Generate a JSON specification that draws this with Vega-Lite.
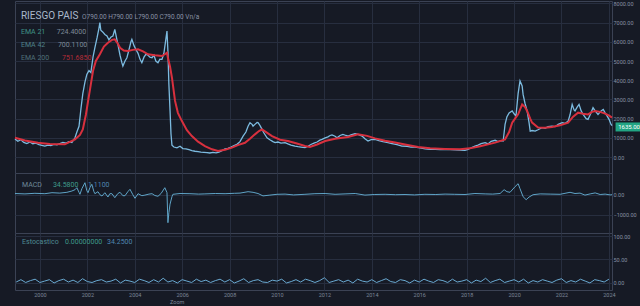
{
"$schema":"https://vega.github.io/schema/vega-lite/v6.json",
"background":"#161a25",
"padding":{"left":10,"top":0,"right":0,"bottom":0},
"spacing":0,
"bounds":"flush",
"config":{
 "view":{"stroke":"#3b4254","fill":"#161a25"},
 "axis":{"labelColor":"#8690a3","labelFontSize":5.5,"labelFont":"Roboto","gridColor":"#272e3f","gridWidth":1,"domain":false,"ticks":false,"tickSize":0,"title":null,"labelOverlap":false},
 "text":{"font":"Roboto"}
},
"datasets":{
 "price":[
{"t":1998.95,"v":940},{"t":1999.07,"v":820},{"t":1999.20,"v":900},{"t":1999.32,"v":760},{"t":1999.45,"v":700},{"t":1999.58,"v":780},{"t":1999.70,"v":690},{"t":1999.83,"v":720},{"t":1999.96,"v":650},{"t":2000.08,"v":610},{"t":2000.21,"v":570},{"t":2000.34,"v":620},{"t":2000.46,"v":590},{"t":2000.59,"v":660},{"t":2000.72,"v":640},{"t":2000.84,"v":700},{"t":2000.97,"v":760},{"t":2001.10,"v":720},{"t":2001.22,"v":800},{"t":2001.35,"v":760},{"t":2001.48,"v":1000},{"t":2001.56,"v":1300},{"t":2001.65,"v":1600},{"t":2001.73,"v":2500},{"t":2001.81,"v":3300},{"t":2001.90,"v":3900},{"t":2001.98,"v":4300},{"t":2002.07,"v":4500},{"t":2002.15,"v":4400},{"t":2002.24,"v":5200},{"t":2002.32,"v":5700},{"t":2002.41,"v":6200},{"t":2002.49,"v":6700},{"t":2002.53,"v":7000},{"t":2002.57,"v":6600},{"t":2002.66,"v":6500},{"t":2002.74,"v":6380},{"t":2002.83,"v":6300},{"t":2002.91,"v":6100},{"t":2003.00,"v":6250},{"t":2003.08,"v":6300},{"t":2003.16,"v":6650},{"t":2003.25,"v":6100},{"t":2003.29,"v":5870},{"t":2003.38,"v":5300},{"t":2003.46,"v":4900},{"t":2003.50,"v":4740},{"t":2003.59,"v":5000},{"t":2003.67,"v":5170},{"t":2003.76,"v":5600},{"t":2003.84,"v":6000},{"t":2003.88,"v":6130},{"t":2003.97,"v":5800},{"t":2004.05,"v":5600},{"t":2004.14,"v":5400},{"t":2004.22,"v":5100},{"t":2004.30,"v":4910},{"t":2004.39,"v":5200},{"t":2004.47,"v":5350},{"t":2004.56,"v":5300},{"t":2004.64,"v":5200},{"t":2004.73,"v":5170},{"t":2004.81,"v":5300},{"t":2004.89,"v":5000},{"t":2004.98,"v":4910},{"t":2005.06,"v":5100},{"t":2005.15,"v":5090},{"t":2005.23,"v":5400},{"t":2005.32,"v":6200},{"t":2005.36,"v":6560},{"t":2005.40,"v":5500},{"t":2005.44,"v":3800},{"t":2005.49,"v":2400},{"t":2005.53,"v":1200},{"t":2005.57,"v":620},{"t":2005.65,"v":520},{"t":2005.78,"v":480},{"t":2005.91,"v":560},{"t":2006.03,"v":440},{"t":2006.16,"v":420},{"t":2006.29,"v":380},{"t":2006.41,"v":330},{"t":2006.54,"v":300},{"t":2006.67,"v":280},{"t":2006.79,"v":250},{"t":2006.92,"v":240},{"t":2007.05,"v":230},{"t":2007.17,"v":210},{"t":2007.30,"v":240},{"t":2007.43,"v":220},{"t":2007.55,"v":260},{"t":2007.68,"v":330},{"t":2007.81,"v":420},{"t":2007.93,"v":450},{"t":2008.06,"v":520},{"t":2008.19,"v":600},{"t":2008.31,"v":660},{"t":2008.44,"v":800},{"t":2008.57,"v":1090},{"t":2008.69,"v":1300},{"t":2008.78,"v":1600},{"t":2008.86,"v":1790},{"t":2008.95,"v":1700},{"t":2008.99,"v":1610},{"t":2009.07,"v":1700},{"t":2009.16,"v":1800},{"t":2009.20,"v":1790},{"t":2009.28,"v":1650},{"t":2009.37,"v":1440},{"t":2009.45,"v":1250},{"t":2009.58,"v":1000},{"t":2009.70,"v":900},{"t":2009.83,"v":800},{"t":2009.92,"v":750},{"t":2010.04,"v":780},{"t":2010.17,"v":720},{"t":2010.34,"v":750},{"t":2010.46,"v":680},{"t":2010.59,"v":620},{"t":2010.76,"v":570},{"t":2010.89,"v":540},{"t":2011.01,"v":520},{"t":2011.18,"v":490},{"t":2011.31,"v":560},{"t":2011.43,"v":650},{"t":2011.56,"v":720},{"t":2011.69,"v":780},{"t":2011.81,"v":880},{"t":2011.90,"v":920},{"t":2012.03,"v":1000},{"t":2012.15,"v":1050},{"t":2012.24,"v":1120},{"t":2012.32,"v":1150},{"t":2012.45,"v":1080},{"t":2012.53,"v":1000},{"t":2012.66,"v":1120},{"t":2012.78,"v":1180},{"t":2012.91,"v":1120},{"t":2013.00,"v":1090},{"t":2013.12,"v":1150},{"t":2013.29,"v":1210},{"t":2013.42,"v":1180},{"t":2013.59,"v":1090},{"t":2013.71,"v":950},{"t":2013.84,"v":830},{"t":2013.97,"v":900},{"t":2014.14,"v":920},{"t":2014.30,"v":850},{"t":2014.47,"v":800},{"t":2014.68,"v":750},{"t":2014.85,"v":700},{"t":2015.06,"v":640},{"t":2015.27,"v":570},{"t":2015.49,"v":560},{"t":2015.65,"v":520},{"t":2015.82,"v":520},{"t":2016.03,"v":470},{"t":2016.25,"v":420},{"t":2016.46,"v":400},{"t":2016.67,"v":400},{"t":2016.88,"v":390},{"t":2017.09,"v":400},{"t":2017.30,"v":380},{"t":2017.51,"v":370},{"t":2017.72,"v":360},{"t":2017.93,"v":350},{"t":2018.06,"v":400},{"t":2018.19,"v":480},{"t":2018.35,"v":570},{"t":2018.48,"v":620},{"t":2018.61,"v":700},{"t":2018.78,"v":750},{"t":2018.90,"v":680},{"t":2019.03,"v":820},{"t":2019.20,"v":870},{"t":2019.32,"v":800},{"t":2019.45,"v":850},{"t":2019.54,"v":830},{"t":2019.62,"v":1700},{"t":2019.70,"v":2100},{"t":2019.79,"v":2300},{"t":2019.92,"v":2400},{"t":2020.00,"v":2250},{"t":2020.08,"v":2140},{"t":2020.17,"v":3300},{"t":2020.25,"v":3960},{"t":2020.34,"v":3700},{"t":2020.38,"v":3260},{"t":2020.46,"v":2800},{"t":2020.55,"v":2400},{"t":2020.63,"v":1800},{"t":2020.68,"v":1350},{"t":2020.76,"v":1380},{"t":2020.89,"v":1350},{"t":2021.01,"v":1420},{"t":2021.18,"v":1530},{"t":2021.31,"v":1500},{"t":2021.43,"v":1580},{"t":2021.60,"v":1610},{"t":2021.73,"v":1580},{"t":2021.86,"v":1700},{"t":2022.03,"v":1790},{"t":2022.15,"v":1750},{"t":2022.28,"v":1870},{"t":2022.36,"v":2200},{"t":2022.45,"v":2740},{"t":2022.53,"v":2450},{"t":2022.57,"v":2400},{"t":2022.66,"v":2600},{"t":2022.74,"v":2740},{"t":2022.83,"v":2400},{"t":2022.91,"v":2220},{"t":2023.04,"v":2000},{"t":2023.12,"v":1960},{"t":2023.21,"v":2200},{"t":2023.33,"v":2570},{"t":2023.42,"v":2400},{"t":2023.54,"v":2220},{"t":2023.67,"v":2400},{"t":2023.76,"v":2480},{"t":2023.84,"v":2300},{"t":2023.92,"v":2140},{"t":2024.01,"v":1950},{"t":2024.09,"v":1700},{"t":2024.13,"v":1635}
 ],
 "ema":[
{"t":1998.95,"v":1000},{"t":1999.37,"v":860},{"t":1999.92,"v":740},{"t":2000.42,"v":680},{"t":2001.05,"v":660},{"t":2001.48,"v":920},{"t":2001.69,"v":1150},{"t":2001.81,"v":1440},{"t":2001.94,"v":2200},{"t":2002.03,"v":2900},{"t":2002.15,"v":3800},{"t":2002.24,"v":4480},{"t":2002.36,"v":5000},{"t":2002.53,"v":5350},{"t":2002.70,"v":5750},{"t":2002.87,"v":5950},{"t":2003.04,"v":6100},{"t":2003.16,"v":6130},{"t":2003.29,"v":5900},{"t":2003.38,"v":5690},{"t":2003.54,"v":5550},{"t":2003.71,"v":5520},{"t":2003.92,"v":5580},{"t":2004.14,"v":5610},{"t":2004.35,"v":5500},{"t":2004.56,"v":5350},{"t":2004.85,"v":5300},{"t":2005.15,"v":5260},{"t":2005.27,"v":5350},{"t":2005.36,"v":5430},{"t":2005.40,"v":5170},{"t":2005.49,"v":4700},{"t":2005.57,"v":4130},{"t":2005.70,"v":2920},{"t":2005.82,"v":2300},{"t":2005.99,"v":1870},{"t":2006.20,"v":1400},{"t":2006.41,"v":1090},{"t":2006.67,"v":800},{"t":2006.96,"v":570},{"t":2007.26,"v":400},{"t":2007.51,"v":310},{"t":2007.81,"v":380},{"t":2008.10,"v":490},{"t":2008.35,"v":620},{"t":2008.65,"v":740},{"t":2008.86,"v":950},{"t":2009.07,"v":1180},{"t":2009.24,"v":1350},{"t":2009.37,"v":1440},{"t":2009.54,"v":1300},{"t":2009.79,"v":1090},{"t":2010.13,"v":900},{"t":2010.46,"v":830},{"t":2010.84,"v":700},{"t":2011.18,"v":570},{"t":2011.39,"v":520},{"t":2011.69,"v":650},{"t":2012.03,"v":830},{"t":2012.45,"v":950},{"t":2013.00,"v":1040},{"t":2013.42,"v":1180},{"t":2013.80,"v":1100},{"t":2014.14,"v":970},{"t":2014.56,"v":850},{"t":2014.98,"v":750},{"t":2015.40,"v":650},{"t":2015.95,"v":520},{"t":2016.46,"v":450},{"t":2017.09,"v":420},{"t":2017.72,"v":400},{"t":2018.14,"v":450},{"t":2018.57,"v":560},{"t":2019.20,"v":750},{"t":2019.62,"v":920},{"t":2019.79,"v":1300},{"t":2019.92,"v":1790},{"t":2020.04,"v":2000},{"t":2020.17,"v":2220},{"t":2020.34,"v":2740},{"t":2020.46,"v":2600},{"t":2020.55,"v":2400},{"t":2020.68,"v":2000},{"t":2020.76,"v":1790},{"t":2021.01,"v":1530},{"t":2021.31,"v":1520},{"t":2021.60,"v":1560},{"t":2021.94,"v":1650},{"t":2022.28,"v":1790},{"t":2022.49,"v":2100},{"t":2022.70,"v":2310},{"t":2022.91,"v":2250},{"t":2023.12,"v":2220},{"t":2023.29,"v":2350},{"t":2023.42,"v":2400},{"t":2023.63,"v":2350},{"t":2023.84,"v":2260},{"t":2024.01,"v":2150},{"t":2024.13,"v":2050}
 ],
 "macd":[
{"t":1998.95,"v":60},{"t":1999.37,"v":40},{"t":1999.79,"v":70},{"t":2000.21,"v":50},{"t":2000.51,"v":100},{"t":2000.84,"v":80},{"t":2001.14,"v":120},{"t":2001.35,"v":185},{"t":2001.48,"v":250},{"t":2001.56,"v":350},{"t":2001.65,"v":120},{"t":2001.69,"v":20},{"t":2001.77,"v":300},{"t":2001.90,"v":600},{"t":2001.98,"v":200},{"t":2002.03,"v":100},{"t":2002.11,"v":350},{"t":2002.19,"v":520},{"t":2002.28,"v":150},{"t":2002.32,"v":50},{"t":2002.45,"v":150},{"t":2002.53,"v":0},{"t":2002.62,"v":-65},{"t":2002.74,"v":100},{"t":2002.87,"v":-115},{"t":2002.95,"v":50},{"t":2003.04,"v":50},{"t":2003.16,"v":-150},{"t":2003.29,"v":60},{"t":2003.38,"v":120},{"t":2003.50,"v":-50},{"t":2003.59,"v":-50},{"t":2003.71,"v":150},{"t":2003.80,"v":270},{"t":2003.92,"v":0},{"t":2004.01,"v":-180},{"t":2004.14,"v":50},{"t":2004.30,"v":-50},{"t":2004.43,"v":-20},{"t":2004.60,"v":30},{"t":2004.73,"v":50},{"t":2004.85,"v":-40},{"t":2004.98,"v":-80},{"t":2005.11,"v":60},{"t":2005.27,"v":350},{"t":2005.36,"v":100},{"t":2005.40,"v":-1400},{"t":2005.44,"v":-900},{"t":2005.49,"v":-470},{"t":2005.57,"v":-100},{"t":2005.61,"v":20},{"t":2005.91,"v":60},{"t":2006.33,"v":50},{"t":2006.70,"v":30},{"t":2006.96,"v":40},{"t":2007.40,"v":60},{"t":2007.81,"v":50},{"t":2008.20,"v":70},{"t":2008.44,"v":80},{"t":2008.78,"v":150},{"t":2008.99,"v":120},{"t":2009.20,"v":60},{"t":2009.41,"v":-60},{"t":2009.70,"v":-20},{"t":2010.00,"v":20},{"t":2010.34,"v":30},{"t":2010.70,"v":-10},{"t":2011.18,"v":20},{"t":2011.60,"v":50},{"t":2012.03,"v":60},{"t":2012.45,"v":20},{"t":2012.87,"v":40},{"t":2013.30,"v":60},{"t":2013.71,"v":-20},{"t":2014.10,"v":10},{"t":2014.56,"v":20},{"t":2015.00,"v":0},{"t":2015.40,"v":10},{"t":2015.80,"v":-10},{"t":2016.24,"v":20},{"t":2016.70,"v":10},{"t":2017.09,"v":30},{"t":2017.50,"v":20},{"t":2017.93,"v":10},{"t":2018.35,"v":60},{"t":2018.78,"v":40},{"t":2019.10,"v":30},{"t":2019.41,"v":60},{"t":2019.58,"v":250},{"t":2019.70,"v":150},{"t":2019.83,"v":120},{"t":2020.04,"v":400},{"t":2020.17,"v":550},{"t":2020.25,"v":300},{"t":2020.38,"v":-100},{"t":2020.51,"v":-250},{"t":2020.63,"v":-120},{"t":2020.80,"v":0},{"t":2021.10,"v":40},{"t":2021.52,"v":30},{"t":2021.94,"v":20},{"t":2022.36,"v":120},{"t":2022.57,"v":60},{"t":2022.78,"v":80},{"t":2022.99,"v":-20},{"t":2023.21,"v":40},{"t":2023.42,"v":90},{"t":2023.63,"v":10},{"t":2023.84,"v":30},{"t":2024.05,"v":-10},{"t":2024.13,"v":0}
 ],
 "stoch":[
{"t":1999.0,"v":2},{"t":1999.2,"v":7},{"t":1999.4,"v":1},{"t":1999.6,"v":5},{"t":1999.8,"v":8},{"t":2000.0,"v":1},{"t":2000.2,"v":4},{"t":2000.4,"v":7},{"t":2000.6,"v":0},{"t":2000.8,"v":5},{"t":2001.0,"v":8},{"t":2001.2,"v":2},{"t":2001.4,"v":6},{"t":2001.6,"v":1},{"t":2001.8,"v":9},{"t":2002.0,"v":3},{"t":2002.2,"v":1},{"t":2002.4,"v":5},{"t":2002.6,"v":7},{"t":2002.8,"v":2},{"t":2003.0,"v":4},{"t":2003.2,"v":8},{"t":2003.4,"v":0},{"t":2003.6,"v":6},{"t":2003.8,"v":4},{"t":2004.0,"v":1},{"t":2004.2,"v":8},{"t":2004.4,"v":5},{"t":2004.6,"v":1},{"t":2004.8,"v":7},{"t":2005.0,"v":2},{"t":2005.2,"v":10},{"t":2005.4,"v":2},{"t":2005.6,"v":5},{"t":2005.8,"v":0},{"t":2006.0,"v":7},{"t":2006.2,"v":4},{"t":2006.4,"v":1},{"t":2006.6,"v":8},{"t":2006.8,"v":3},{"t":2007.0,"v":6},{"t":2007.2,"v":1},{"t":2007.4,"v":5},{"t":2007.6,"v":8},{"t":2007.8,"v":2},{"t":2008.0,"v":7},{"t":2008.2,"v":0},{"t":2008.4,"v":4},{"t":2008.6,"v":9},{"t":2008.8,"v":1},{"t":2009.0,"v":5},{"t":2009.2,"v":7},{"t":2009.4,"v":2},{"t":2009.6,"v":1},{"t":2009.8,"v":6},{"t":2010.0,"v":4},{"t":2010.2,"v":8},{"t":2010.4,"v":0},{"t":2010.6,"v":3},{"t":2010.8,"v":7},{"t":2011.0,"v":2},{"t":2011.2,"v":8},{"t":2011.4,"v":5},{"t":2011.6,"v":1},{"t":2011.8,"v":5},{"t":2012.0,"v":11},{"t":2012.2,"v":1},{"t":2012.4,"v":4},{"t":2012.6,"v":7},{"t":2012.8,"v":2},{"t":2013.0,"v":6},{"t":2013.2,"v":0},{"t":2013.4,"v":8},{"t":2013.6,"v":4},{"t":2013.8,"v":2},{"t":2014.0,"v":7},{"t":2014.2,"v":1},{"t":2014.4,"v":5},{"t":2014.6,"v":9},{"t":2014.8,"v":3},{"t":2015.0,"v":1},{"t":2015.2,"v":7},{"t":2015.4,"v":5},{"t":2015.6,"v":0},{"t":2015.8,"v":6},{"t":2016.0,"v":2},{"t":2016.2,"v":8},{"t":2016.4,"v":4},{"t":2016.6,"v":1},{"t":2016.8,"v":7},{"t":2017.0,"v":5},{"t":2017.2,"v":1},{"t":2017.4,"v":8},{"t":2017.6,"v":2},{"t":2017.8,"v":4},{"t":2018.0,"v":7},{"t":2018.2,"v":0},{"t":2018.4,"v":6},{"t":2018.6,"v":3},{"t":2018.8,"v":10},{"t":2019.0,"v":1},{"t":2019.2,"v":5},{"t":2019.4,"v":8},{"t":2019.6,"v":1},{"t":2019.8,"v":4},{"t":2020.0,"v":7},{"t":2020.2,"v":2},{"t":2020.4,"v":8},{"t":2020.6,"v":0},{"t":2020.8,"v":5},{"t":2021.0,"v":2},{"t":2021.2,"v":7},{"t":2021.4,"v":4},{"t":2021.6,"v":1},{"t":2021.8,"v":6},{"t":2022.0,"v":9},{"t":2022.2,"v":1},{"t":2022.4,"v":5},{"t":2022.6,"v":2},{"t":2022.8,"v":8},{"t":2023.0,"v":4},{"t":2023.2,"v":0},{"t":2023.4,"v":7},{"t":2023.6,"v":5},{"t":2023.8,"v":2},{"t":2024.0,"v":8}
 ]
},
"vconcat":[
 {
  "width":597,"height":172,
  "resolve":{"axis":{"x":"independent","y":"independent"}},
  "layer":[
   {"data":{"name":"price"},"mark":{"type":"line","color":"#7cbbe0","strokeWidth":1.3},
    "encoding":{
     "x":{"field":"t","type":"quantitative","scale":{"domain":[1998.95,2024.13],"nice":false,"zero":false},"axis":{"values":[2000,2002,2004,2006,2008,2010,2012,2014,2016,2018,2020,2022,2024],"labels":false,"grid":true}},
     "y":{"field":"v","type":"quantitative","scale":{"domain":[-833,8125],"nice":false,"zero":false},"axis":{"orient":"right","values":[0,1000,2000,3000,4000,5000,6000,7000,8000],"format":".2f","grid":true,"labelPadding":1,"labelOverlap":false}}}},
   {"data":{"name":"ema"},"mark":{"type":"line","color":"#d8303e","strokeWidth":2},
    "encoding":{"x":{"field":"t","type":"quantitative","axis":null},"y":{"field":"v","type":"quantitative","axis":null}}},
   {"data":{"values":[{}]},"mark":{"type":"rect","color":"#22a584"},
    "encoding":{"x":{"datum":2024.28,"axis":null},"x2":{"datum":2025.6},"y":{"datum":1330,"axis":null},"y2":{"datum":1800}}},
   {"data":{"values":[{}]},"mark":{"type":"text","color":"#ffffff","fontSize":6,"align":"center","baseline":"middle"},
    "encoding":{"x":{"datum":2024.85,"axis":null},"y":{"datum":1565,"axis":null},"text":{"value":"1635.00"}}},
   {"data":{"values":[{}]},"mark":{"type":"text","color":"#a9b8cb","fontSize":10,"align":"left","baseline":"alphabetic"},
    "encoding":{"x":{"datum":1999.2,"axis":null},"y":{"datum":7190,"axis":null},"text":{"value":"RIESGO PAIS"}}},
   {"data":{"values":[{}]},"mark":{"type":"text","color":"#8891a4","fontSize":6.5,"align":"left","baseline":"alphabetic"},
    "encoding":{"x":{"datum":2001.78,"axis":null},"y":{"datum":7190,"axis":null},"text":{"value":"O790.00  H790.00  L790.00  C790.00  Vn/a"}}},
   {"data":{"values":[{}]},"mark":{"type":"text","color":"#3f9386","fontSize":7,"align":"left","baseline":"alphabetic"},
    "encoding":{"x":{"datum":1999.2,"axis":null},"y":{"datum":6400,"axis":null},"text":{"value":"EMA  21"}}},
   {"data":{"values":[{}]},"mark":{"type":"text","color":"#7d8a99","fontSize":7,"align":"left","baseline":"alphabetic"},
    "encoding":{"x":{"datum":2000.71,"axis":null},"y":{"datum":6400,"axis":null},"text":{"value":"724.4000"}}},
   {"data":{"values":[{}]},"mark":{"type":"text","color":"#4f8289","fontSize":7,"align":"left","baseline":"alphabetic"},
    "encoding":{"x":{"datum":1999.2,"axis":null},"y":{"datum":5730,"axis":null},"text":{"value":"EMA  42"}}},
   {"data":{"values":[{}]},"mark":{"type":"text","color":"#7d8a99","fontSize":7,"align":"left","baseline":"alphabetic"},
    "encoding":{"x":{"datum":2000.76,"axis":null},"y":{"datum":5730,"axis":null},"text":{"value":"700.1100"}}},
   {"data":{"values":[{}]},"mark":{"type":"text","color":"#4f7078","fontSize":7,"align":"left","baseline":"alphabetic"},
    "encoding":{"x":{"datum":1999.2,"axis":null},"y":{"datum":5050,"axis":null},"text":{"value":"EMA  200"}}},
   {"data":{"values":[{}]},"mark":{"type":"text","color":"#b52c38","fontSize":7,"align":"left","baseline":"alphabetic"},
    "encoding":{"x":{"datum":2000.93,"axis":null},"y":{"datum":5050,"axis":null},"text":{"value":"751.6850"}}}
  ]
 },
 {
  "width":597,"height":60,
  "resolve":{"axis":{"x":"independent","y":"independent"}},
  "layer":[
   {"data":{"name":"macd"},"mark":{"type":"line","color":"#5fa4c7","strokeWidth":1},
    "encoding":{
     "x":{"field":"t","type":"quantitative","scale":{"domain":[1998.95,2024.13],"nice":false,"zero":false},"axis":{"values":[2000,2002,2004,2006,2008,2010,2012,2014,2016,2018,2020,2022,2024],"labels":false,"grid":true}},
     "y":{"field":"v","type":"quantitative","scale":{"domain":[-1915,1085],"nice":false,"zero":false},"axis":{"orient":"right","values":[-1000,0],"format":".2f","grid":true,"labelPadding":1,"labelOverlap":false}}}},
   {"data":{"values":[{}]},"mark":{"type":"text","color":"#6f8a9a","fontSize":7,"align":"left","baseline":"alphabetic"},
    "encoding":{"x":{"datum":1999.25,"axis":null},"y":{"datum":385,"axis":null},"text":{"value":"MACD"}}},
   {"data":{"values":[{}]},"mark":{"type":"text","color":"#3f9a8a","fontSize":7,"align":"left","baseline":"alphabetic"},
    "encoding":{"x":{"datum":2000.55,"axis":null},"y":{"datum":385,"axis":null},"text":{"value":"34.5800"}}},
   {"data":{"values":[{}]},"mark":{"type":"text","color":"#4f86b0","fontSize":7,"align":"left","baseline":"alphabetic"},
    "encoding":{"x":{"datum":2002.03,"axis":null},"y":{"datum":385,"axis":null},"text":{"value":"1.1100"}}}
  ]
 },
 {
  "width":597,"height":57,
  "resolve":{"axis":{"x":"independent","y":"independent"}},
  "layer":[
   {"data":{"name":"stoch"},"mark":{"type":"line","color":"#6aaad2","strokeWidth":1},
    "encoding":{
     "x":{"field":"t","type":"quantitative","scale":{"domain":[1998.95,2024.13],"nice":false,"zero":false},"axis":{"values":[2000,2002,2004,2006,2008,2010,2012,2014,2016,2018,2020,2022,2024],"format":"d","labels":true,"grid":true,"labelPadding":2,"labelColor":"#7c8698"}},
     "y":{"field":"v","type":"quantitative","scale":{"domain":[-15,106.4],"nice":false,"zero":false},"axis":{"orient":"right","values":[0,50,100],"format":".2f","grid":true,"labelPadding":1,"labelOverlap":false}}}},
   {"data":{"values":[{}]},"mark":{"type":"text","color":"#4f8a93","fontSize":7,"align":"left","baseline":"alphabetic"},
    "encoding":{"x":{"datum":1999.25,"axis":null},"y":{"datum":83,"axis":null},"text":{"value":"Estocastico"}}},
   {"data":{"values":[{}]},"mark":{"type":"text","color":"#3f9a8a","fontSize":7,"align":"left","baseline":"alphabetic"},
    "encoding":{"x":{"datum":2001.06,"axis":null},"y":{"datum":83,"axis":null},"text":{"value":"0.00000000"}}},
   {"data":{"values":[{}]},"mark":{"type":"text","color":"#4f86b0","fontSize":7,"align":"left","baseline":"alphabetic"},
    "encoding":{"x":{"datum":2002.83,"axis":null},"y":{"datum":83,"axis":null},"text":{"value":"34.2500"}}},
   {"data":{"values":[{}]},"mark":{"type":"text","color":"#7c8698","fontSize":5.5,"align":"left","baseline":"alphabetic"},
    "encoding":{"x":{"datum":2005.49,"axis":null},"y":{"datum":-44,"axis":null},"text":{"value":"Zoom"}}}
  ]
 }
]
}
